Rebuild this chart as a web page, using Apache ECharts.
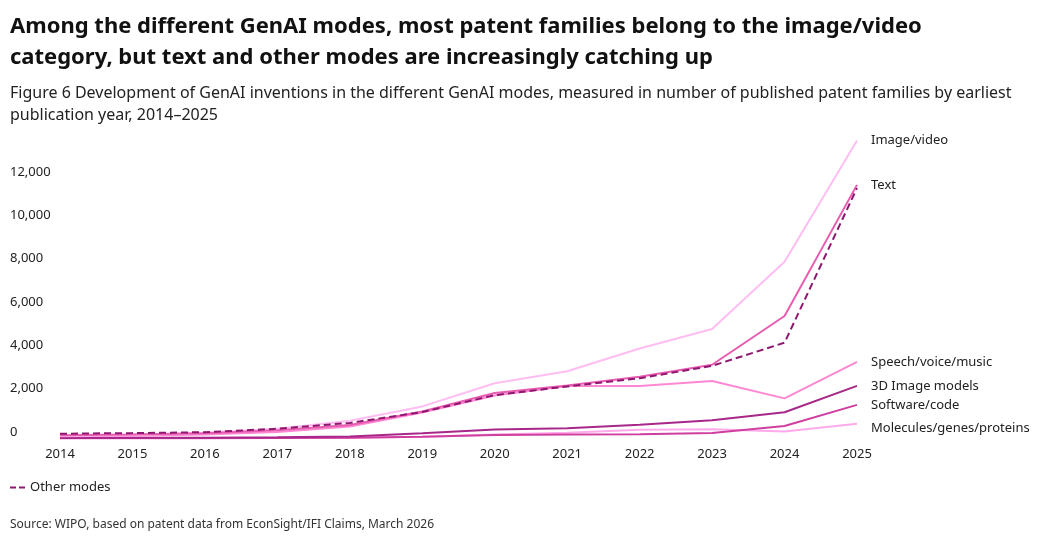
<!DOCTYPE html>
<html>
<head>
<meta charset="utf-8">
<script src="https://cdn.jsdelivr.net/npm/echarts@6/dist/echarts.min.js"></script>
<style>
  html, body { margin: 0; padding: 0; background: #fff; }
  #main { width: 1040px; height: 544px; }
</style>
</head>
<body>
<div id="main"></div>
<script>
// years on the x axis
var years = ['2014', '2015', '2016', '2017', '2018', '2019', '2020', '2021', '2022', '2023', '2024', '2025'];

// published patent families per mode
var imageVideo = [120, 160, 260, 450, 820, 1480, 2550, 3100, 4150, 5050, 8150, 13750];
var text = [150, 190, 240, 380, 620, 1250, 2100, 2450, 2850, 3400, 5650, 11700];
var otherModes = [220, 250, 290, 450, 720, 1220, 2000, 2400, 2780, 3350, 4420, 11550];
var speech = [100, 130, 180, 300, 550, 1200, 1980, 2420, 2420, 2650, 1850, 3530];
var threeD = [20, 30, 40, 60, 90, 240, 420, 470, 630, 840, 1210, 2430];
var software = [10, 10, 15, 20, 30, 80, 160, 190, 200, 250, 580, 1550];
var molecules = [5, 10, 15, 20, 30, 80, 180, 260, 400, 430, 320, 680];

// y axis ticks
var yTicks = [0, 2000, 4000, 6000, 8000, 10000, 12000];

var FONT = '"Noto Sans", "Open Sans", sans-serif';

var myChart = echarts.init(document.getElementById('main'));

function lineSeries(name, data, color, dashed, labelOffset) {
    return {
        name: name,
        type: 'line',
        data: data,
        symbol: 'none',
        smooth: false,
        lineStyle: { color: color, width: 2, type: dashed ? [7, 4] : 'solid' },
        itemStyle: { color: color },
        z: dashed ? 5 : 3,
        endLabel: {
            show: !dashed,
            formatter: name,
            distance: 14,
            offset: labelOffset || [0, 0],
            color: '#222',
            fontFamily: FONT,
            fontSize: 13
        },
        emphasis: { disabled: true }
    };
}

var option = {
    animation: false,
    title: [{
        text: 'Among the different GenAI modes, most patent families belong to the image/video\ncategory, but text and other modes are increasingly catching up',
        left: 10, top: 11, padding: 0,
        textStyle: { fontFamily: FONT, fontSize: 22, fontWeight: 'bold', color: '#111', lineHeight: 31 }
    }, {
        text: 'Figure 6 Development of GenAI inventions in the different GenAI modes, measured in number of published patent families by earliest\npublication year, 2014\u20132025',
        left: 10, top: 82, padding: 0,
        textStyle: { fontFamily: FONT, fontSize: 16, fontWeight: 'normal', color: '#222', lineHeight: 22 }
    }, {
        text: 'Source: WIPO, based on patent data from EconSight/IFI Claims, March 2026',
        left: 10, top: 519, padding: 0,
        textStyle: { fontFamily: FONT, fontSize: 12, fontWeight: 'normal', color: '#333' }
    }],
    legend: {
        data: ['Other modes'],
        left: 5, top: 476,
        icon: 'path://M0,0 L6,0 L6,2 L0,2 Z M9,0 L15,0 L15,2 L9,2 Z',
        itemWidth: 15, itemHeight: 2, itemGap: 6,
        textStyle: { fontFamily: FONT, fontSize: 13, color: '#222' }
    },
    grid: { left: 60, right: 183, top: 135, bottom: 105.5 },
    xAxis: {
        type: 'category',
        data: years,
        boundaryGap: false,
        axisLine: { show: false },
        axisTick: { show: false },
        axisLabel: { color: '#222', fontFamily: FONT, fontSize: 13, margin: 9 }
    },
    yAxis: {
        type: 'value',
        min: 0, max: 14000, interval: 2000,
        splitLine: { show: false },
        axisLine: { show: false },
        axisTick: { show: false },
        axisLabel: {
            color: '#222', fontFamily: FONT, fontSize: 13,
            align: 'left', verticalAlign: 'bottom', margin: 50,
            formatter: function (v) {
                return yTicks.indexOf(v) >= 0 ? v.toLocaleString('en-US') : '';
            }
        }
    },
    series: [
        lineSeries('Molecules/genes/proteins', molecules, '#ffaaea', false, [0, 5]),
        lineSeries('Software/code', software, '#cf3fa0', false),
        lineSeries('3D Image models', threeD, '#a8288a', false),
        lineSeries('Speech/voice/music', speech, '#ff88d4', false),
        lineSeries('Image/video', imageVideo, '#ffbdf2', false),
        lineSeries('Text', text, '#e85cb0', false),
        lineSeries('Other modes', otherModes, '#8e1870', true)
    ]
};

myChart.setOption(option);
</script>
</body>
</html>
